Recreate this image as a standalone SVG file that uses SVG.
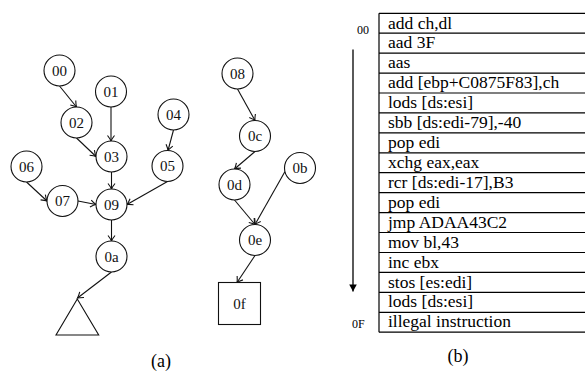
<svg xmlns="http://www.w3.org/2000/svg" width="585" height="374" viewBox="0 0 585 374" font-family="'Liberation Serif', 'DejaVu Serif', serif">
  <style>
    .node circle { fill: #fff; stroke: #111; stroke-width: 1.1; }
    .node rect, .node polygon { fill: #fff; stroke: #111; stroke-width: 1.1; }
    .lbl { font-size: 15px; fill: #111; text-anchor: middle; }
    .edge { fill: none; stroke: #111; stroke-width: 1.1; marker-end: url(#vee); }
    .row { font-size: 17.5px; fill: #000; }
    .grid { stroke: #000; stroke-width: 1.2; fill: none; }
    .side { font-size: 12px; fill: #000; }
    .cap { font-size: 18px; fill: #000; text-anchor: middle; }
  </style>
  <defs>
    <marker id="vee" markerUnits="userSpaceOnUse" markerWidth="12" markerHeight="12" viewBox="-7 -6 9 12" refX="0" refY="0" orient="auto">
      <path d="M-5.5,-3.5 Q-2,-0.8 0,0 Q-2,0.8 -5.5,3.5" fill="none" stroke="#111" stroke-width="1.1"/>
    </marker>
    <marker id="solid" markerUnits="userSpaceOnUse" markerWidth="10" markerHeight="10" viewBox="-8 -5 9 10" refX="0" refY="0" orient="auto">
      <path d="M-7,-3.8 L0,0 L-7,3.8 Z" fill="#000"/>
    </marker>
  </defs>

  <!-- (a) graph: connectors -->
  <g id="connectors">
    <path class="edge" d="M59.5,86 L76.5,107"/>
    <path class="edge" d="M111,107 L111,141"/>
    <path class="edge" d="M76.5,138 L96,156.5"/>
    <path class="edge" d="M173.5,130 L168,150.5"/>
    <path class="edge" d="M111.5,172 L111.5,189"/>
    <path class="edge" d="M26.5,182 L47,201"/>
    <path class="edge" d="M78,201 L96,204.5"/>
    <path class="edge" d="M167.5,181.5 L127,204.5"/>
    <path class="edge" d="M111.5,220 L111.5,241"/>
    <path class="edge" d="M111.5,272 L77.5,298"/>
    <path class="edge" d="M237.5,89 L255,120.5"/>
    <path class="edge" d="M255,151.5 L234.5,169"/>
    <path class="edge" d="M234.5,200 L255,224.5"/>
    <path class="edge" d="M285,171.5 L255,224.5"/>
    <path class="edge" d="M255,255.5 L237,282.5"/>
  </g>

  <!-- (a) graph: nodes -->
  <g id="n00" class="node"><circle cx="59.5" cy="70.5" r="15.5"/><text class="lbl" x="59.5" y="75.5">00</text></g>
  <g id="n01" class="node"><circle cx="111" cy="91.5" r="15.5"/><text class="lbl" x="111" y="96.5">01</text></g>
  <g id="n02" class="node"><circle cx="76.5" cy="122.5" r="15.5"/><text class="lbl" x="76.5" y="127.5">02</text></g>
  <g id="n03" class="node"><circle cx="111.5" cy="156.5" r="15.5"/><text class="lbl" x="111.5" y="161.5">03</text></g>
  <g id="n04" class="node"><circle cx="173.5" cy="114.5" r="15.5"/><text class="lbl" x="173.5" y="119.5">04</text></g>
  <g id="n05" class="node"><circle cx="167.5" cy="166" r="15.5"/><text class="lbl" x="167.5" y="171">05</text></g>
  <g id="n06" class="node"><circle cx="26.5" cy="166.5" r="15.5"/><text class="lbl" x="26.5" y="171.5">06</text></g>
  <g id="n07" class="node"><circle cx="62.5" cy="201" r="15.5"/><text class="lbl" x="62.5" y="206">07</text></g>
  <g id="n09" class="node"><circle cx="111.5" cy="204.5" r="15.5"/><text class="lbl" x="111.5" y="209.5">09</text></g>
  <g id="n0a" class="node"><circle cx="111.5" cy="256.5" r="15.5"/><text class="lbl" x="111.5" y="261.5">0a</text></g>
  <g id="exit" class="node"><polygon points="77.3,299 56,335 98.7,335"/></g>
  <g id="n08" class="node"><circle cx="237.5" cy="73.5" r="15.5"/><text class="lbl" x="237.5" y="78.5">08</text></g>
  <g id="n0c" class="node"><circle cx="255" cy="136" r="15.5"/><text class="lbl" x="255" y="141">0c</text></g>
  <g id="n0d" class="node"><circle cx="234.5" cy="184.5" r="15.5"/><text class="lbl" x="234.5" y="189.5">0d</text></g>
  <g id="n0b" class="node"><circle cx="300" cy="168" r="15.5"/><text class="lbl" x="300" y="173">0b</text></g>
  <g id="n0e" class="node"><circle cx="255" cy="240" r="15.5"/><text class="lbl" x="255" y="245">0e</text></g>
  <g id="n0f" class="node"><rect x="218.5" y="282.5" width="42" height="42"/><text class="lbl" x="239.5" y="308.5">0f</text></g>

  <text class="cap" x="161" y="367">(a)</text>

  <!-- (b) instruction listing -->
  <g id="listing">
    <path class="grid" d="M379,13.3 V332.2"/>
    <path class="grid" d="M379,13.3 H585 M379,33.2 H585 M379,53.2 H585 M379,73.1 H585 M379,93 H585 M379,112.9 H585 M379,132.9 H585 M379,152.8 H585 M379,172.7 H585 M379,192.7 H585 M379,212.6 H585 M379,232.5 H585 M379,252.5 H585 M379,272.4 H585 M379,292.3 H585 M379,312.3 H585 M379,332.2 H585"/>
    <text class="row" x="388" y="28.5">add ch,dl</text>
    <text class="row" x="388" y="48.4">aad 3F</text>
    <text class="row" x="388" y="68.3">aas</text>
    <text class="row" x="388" y="88.2">add [ebp+C0875F83],ch</text>
    <text class="row" x="388" y="108.1">lods [ds:esi]</text>
    <text class="row" x="388" y="128">sbb [ds:edi-79],-40</text>
    <text class="row" x="388" y="148">pop edi</text>
    <text class="row" x="388" y="167.9">xchg eax,eax</text>
    <text class="row" x="388" y="187.8">rcr [ds:edi-17],B3</text>
    <text class="row" x="388" y="207.8">pop edi</text>
    <text class="row" x="388" y="227.7">jmp ADAA43C2</text>
    <text class="row" x="388" y="247.6">mov bl,43</text>
    <text class="row" x="388" y="267.6">inc ebx</text>
    <text class="row" x="388" y="287.5">stos [es:edi]</text>
    <text class="row" x="388" y="307.4">lods [ds:esi]</text>
    <text class="row" x="388" y="327.4">illegal instruction</text>
  </g>

  <g id="order">
    <text class="side" x="357" y="34">00</text>
    <text class="side" x="352" y="328">0F</text>
    <path d="M353,49.5 V291.5" stroke="#000" stroke-width="1.3" fill="none" marker-end="url(#solid)"/>
  </g>

  <text class="cap" x="458" y="362">(b)</text>
</svg>
